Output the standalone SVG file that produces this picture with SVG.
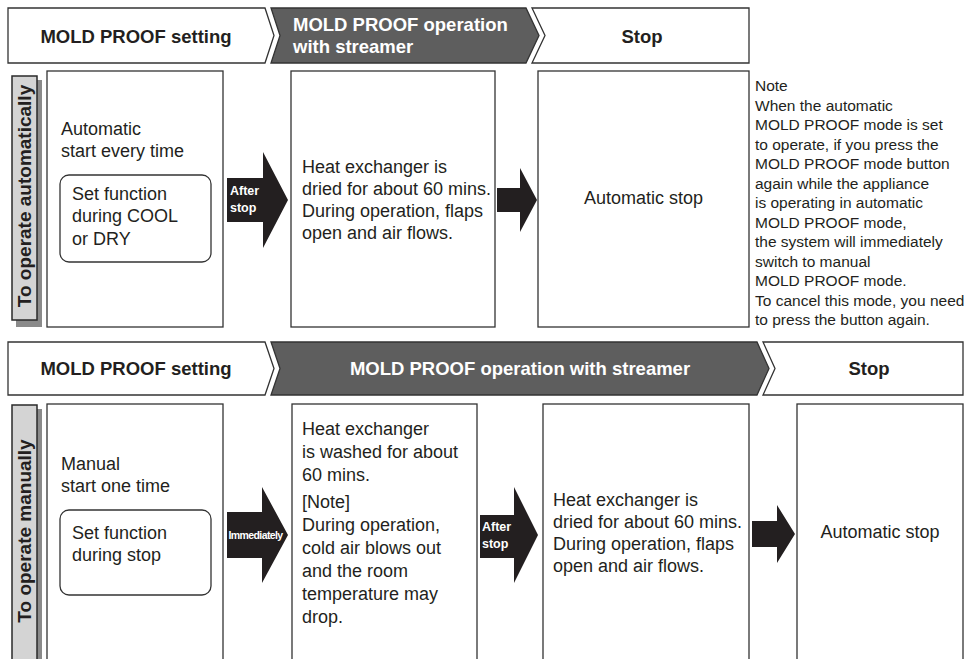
<svg xmlns="http://www.w3.org/2000/svg" width="974" height="659" viewBox="0 0 974 659">
<style>
text{font-family:"Liberation Sans",Arial,Helvetica,sans-serif;fill:#231f20}
.hw{fill:#fff;stroke:#333;stroke-width:1.3}
.hd{fill:#5e5e5e;stroke:#333;stroke-width:1.3}
.ht{font-size:18.5px;font-weight:bold}
.htw{font-size:18.5px;font-weight:bold;fill:#fff}
.box{fill:#fff;stroke:#333;stroke-width:1.3}
.inner{fill:#fff;stroke:#333;stroke-width:1.3}
.bt{font-size:18px}
.nt{font-size:15.5px}
.lab{fill:#d4d4d4;stroke:#2a2a2a;stroke-width:1.5}
.shd{fill:#8a8a8a}
.lt{font-size:19px;font-weight:bold}
.arr{fill:#231f20}
.at{font-size:12.5px;font-weight:bold;fill:#fff}
</style>

<!-- Row 1 header -->
<g id="hdr1-setting">
<polygon class="hw" points="8,8 265,8 274,35.5 265,63 8,63"/>
<text class="ht" x="136" y="43" text-anchor="middle">MOLD PROOF setting</text>
</g>
<g id="hdr1-operation">
<polygon class="hd" points="271,8 526,8 539,35.5 526,63 271,63 280,35.5"/>
<text class="htw" x="293" y="31">MOLD PROOF operation</text>
<text class="htw" x="293" y="53">with streamer</text>
</g>
<g id="hdr1-stop">
<polygon class="hw" points="532,8 749,8 749,63 532,63 545,35.5"/>
<text class="ht" x="642" y="43" text-anchor="middle">Stop</text>
</g>

<!-- Row 1 label -->
<g id="label-auto">
<rect class="shd" x="16" y="80" width="26" height="247"/>
<rect class="lab" x="12" y="76" width="25" height="244"/>
<text class="lt" transform="translate(31,196) rotate(-90)" text-anchor="middle">To operate automatically</text>
</g>

<!-- Row 1 boxes -->
<g id="auto-start">
<rect class="box" x="47" y="71" width="176" height="256"/>
<text class="bt" x="61" y="135">Automatic</text>
<text class="bt" x="61" y="157">start every time</text>
<rect class="inner" x="60" y="175" width="151" height="87" rx="9"/>
<text class="bt" x="72" y="200">Set function</text>
<text class="bt" x="72" y="222">during COOL</text>
<text class="bt" x="72" y="245">or DRY</text>
</g>
<g id="auto-dry">
<rect class="box" x="291" y="71" width="204" height="256"/>
<text class="bt" x="302" y="173">Heat exchanger is</text>
<text class="bt" x="302" y="195">dried for about 60 mins.</text>
<text class="bt" x="302" y="217">During operation, flaps</text>
<text class="bt" x="302" y="239">open and air flows.</text>
</g>
<g id="auto-stop">
<rect class="box" x="538" y="71" width="211" height="256"/>
<text class="bt" x="643.5" y="204" text-anchor="middle">Automatic stop</text>
</g>
<g id="auto-note">
<text class="nt" x="755" y="91">Note</text>
<text class="nt" x="755" y="110.5">When the automatic</text>
<text class="nt" x="755" y="130">MOLD PROOF mode is set</text>
<text class="nt" x="755" y="149.5">to operate, if you press the</text>
<text class="nt" x="755" y="169">MOLD PROOF mode button</text>
<text class="nt" x="755" y="188.5">again while the appliance</text>
<text class="nt" x="755" y="208">is operating in automatic</text>
<text class="nt" x="755" y="227.5">MOLD PROOF mode,</text>
<text class="nt" x="755" y="247">the system will immediately</text>
<text class="nt" x="755" y="266.5">switch to manual</text>
<text class="nt" x="755" y="286">MOLD PROOF mode.</text>
<text class="nt" x="755" y="305.5">To cancel this mode, you need</text>
<text class="nt" x="755" y="325">to press the button again.</text>
</g>

<!-- Row 2 header -->
<g id="hdr2-setting">
<polygon class="hw" points="8,342 265,342 274,368.5 265,395 8,395"/>
<text class="ht" x="136" y="375" text-anchor="middle">MOLD PROOF setting</text>
</g>
<g id="hdr2-operation">
<polygon class="hd" points="271,342 757,342 769,368.5 757,395 271,395 280,368.5"/>
<text class="htw" x="520" y="375" text-anchor="middle">MOLD PROOF operation with streamer</text>
</g>
<g id="hdr2-stop">
<polygon class="hw" points="763,342 963,342 963,395 763,395 775,368.5"/>
<text class="ht" x="869" y="375" text-anchor="middle">Stop</text>
</g>

<!-- Row 2 label -->
<g id="label-manual">
<rect class="shd" x="16" y="409" width="26" height="260"/>
<rect class="lab" x="12" y="405" width="25" height="264"/>
<text class="lt" transform="translate(31,531) rotate(-90)" text-anchor="middle">To operate manually</text>
</g>

<!-- Row 2 boxes -->
<g id="manual-start">
<rect class="box" x="47" y="404" width="176" height="265"/>
<text class="bt" x="61" y="470">Manual</text>
<text class="bt" x="61" y="492">start one time</text>
<rect class="inner" x="60" y="510" width="151" height="85" rx="9"/>
<text class="bt" x="72" y="539">Set function</text>
<text class="bt" x="72" y="561">during stop</text>
</g>
<g id="manual-wash">
<rect class="box" x="292" y="404" width="185" height="265"/>
<text class="bt" x="302" y="435">Heat exchanger</text>
<text class="bt" x="302" y="458">is washed for about</text>
<text class="bt" x="302" y="481">60 mins.</text>
<text class="bt" x="302" y="508">[Note]</text>
<text class="bt" x="302" y="531">During operation,</text>
<text class="bt" x="302" y="554">cold air blows out</text>
<text class="bt" x="302" y="577">and the room</text>
<text class="bt" x="302" y="600">temperature may</text>
<text class="bt" x="302" y="623">drop.</text>
</g>
<g id="manual-dry">
<rect class="box" x="543" y="404" width="206" height="265"/>
<text class="bt" x="553" y="506">Heat exchanger is</text>
<text class="bt" x="553" y="528">dried for about 60 mins.</text>
<text class="bt" x="553" y="550">During operation, flaps</text>
<text class="bt" x="553" y="572">open and air flows.</text>
</g>
<g id="manual-stop">
<rect class="box" x="797" y="404" width="166" height="265"/>
<text class="bt" x="880" y="538" text-anchor="middle">Automatic stop</text>
</g>

<!-- Connectors (block arrows) -->
<g id="connectors">
<polygon class="arr" points="227,178 263,178 263,152 288,200 263,248 263,222 227,222"/>
<text class="at" x="230" y="195">After</text>
<text class="at" x="230" y="212">stop</text>
<polygon class="arr" points="497,188 520,188 520,168 537,200 520,232 520,212 497,212"/>

<polygon class="arr" points="227,512 262,512 262,487 288,535 262,583 262,558 227,558"/>
<text class="at" x="228.5" y="539" style="font-size:10.5px;letter-spacing:-0.6px">Immediately</text>
<polygon class="arr" points="480,515 514,515 514,487 538,535 514,583 514,558 480,558"/>
<text class="at" x="482" y="531">After</text>
<text class="at" x="482" y="548">stop</text>
<polygon class="arr" points="752,521 777,521 777,505 795,534 777,563 777,547 752,547"/>
</g>
</svg>
